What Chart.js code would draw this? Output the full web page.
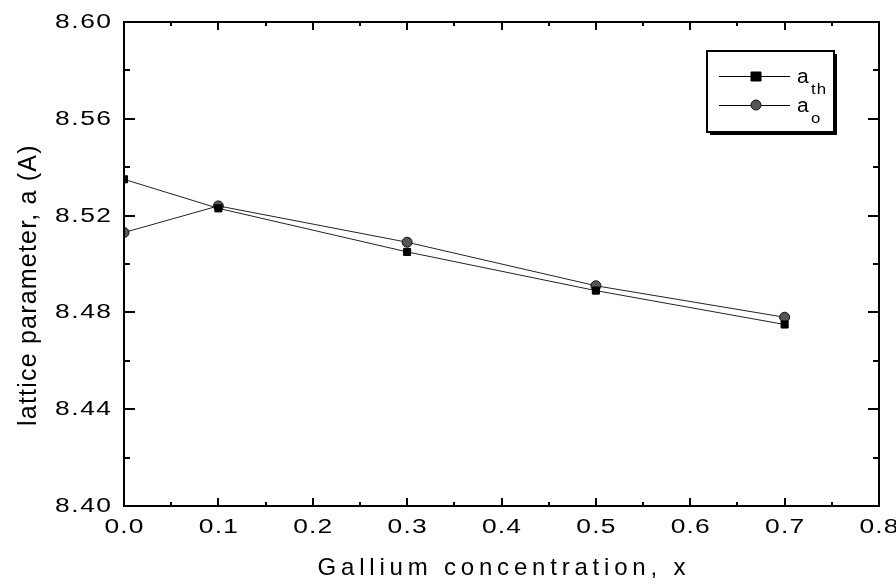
<!DOCTYPE html>
<html><head><meta charset="utf-8">
<script src="https://cdn.jsdelivr.net/npm/chart.js@4.4.0/dist/chart.umd.min.js"></script>
<style>html,body{margin:0;padding:0;background:#fff}#wrap{width:896px;height:585px}</style>
</head><body><div id="wrap"><canvas id="c" width="896" height="585"></canvas></div>
<script>
const concentrations = [0.0, 0.1, 0.3, 0.5, 0.7];
const aTheory = [8.535, 8.523, 8.505, 8.489, 8.475];
const aObserved = [8.513, 8.524, 8.509, 8.491, 8.478];
const seriesNames = ['a', 'a'];
const seriesSubs = ['th', 'o'];
const xTitle = 'Gallium concentration, x';
const yTitle = 'lattice parameter, a (A)';
const xMin = 0, xMax = 0.8, xStep = 0.1;
const yMin = 8.40, yMax = 8.60, yStep = 0.04;
const xDecimals = 1, yDecimals = 2;

const FONT = '"Liberation Sans", Arial, sans-serif';
const SX = 1.32; // horizontal stretch of the reference tick lettering

function drawText(ctx, text, x, y, align, size, sx, spacing){
  ctx.save();
  ctx.font = size + 'px ' + FONT;
  ctx.letterSpacing = '0px';
  const chars = Array.from(text);
  const widths = chars.map(c => ctx.measureText(c).width * sx);
  const total = widths.reduce((s,w)=>s+w,0) + spacing * (chars.length - 1);
  let start = x;
  if (align === 'center') start = x - total/2;
  else if (align === 'right') start = x - total;
  ctx.textAlign = 'left';
  ctx.textBaseline = 'alphabetic';
  ctx.translate(start, y);
  ctx.scale(sx, 1);
  ctx.letterSpacing = (spacing / sx) + 'px';
  ctx.fillText(text, 0, 0);
  ctx.restore();
  return total;
}

function toPts(xs, ys){ return xs.map((x,i)=>({x:x, y:ys[i]})); }

const framePlugin = {
  id: 'frame',
  afterDraw(chart){
    const ctx = chart.ctx, a = chart.chartArea;
    const xs = chart.scales.x, ys = chart.scales.y;
    ctx.save();
    ctx.strokeStyle = '#000';
    ctx.lineWidth = 2;
    ctx.strokeRect(a.left, a.top, a.right - a.left, a.bottom - a.top);
    ctx.beginPath();
    for (let k = 0; k <= Math.round((xMax - xMin) / (xStep/2)); k++){
      const v = xMin + k * xStep / 2;
      const px = Math.round(xs.getPixelForValue(v));
      const len = (k % 2 === 0) ? 8 : 4;
      if (px <= a.left + 1 || px >= a.right - 1) continue;
      ctx.moveTo(px, a.bottom); ctx.lineTo(px, a.bottom - len);
      ctx.moveTo(px, a.top); ctx.lineTo(px, a.top + len);
    }
    for (let k = 0; k <= Math.round((yMax - yMin) / (yStep/2)); k++){
      const v = yMin + k * yStep / 2;
      const py = Math.round(ys.getPixelForValue(v));
      const len = (k % 2 === 0) ? 11 : 6;
      if (py <= a.top + 1 || py >= a.bottom - 1) continue;
      ctx.moveTo(a.left, py); ctx.lineTo(a.left + len, py);
      ctx.moveTo(a.right, py); ctx.lineTo(a.right - len, py);
    }
    ctx.stroke();

    // tick labels from the library's scales
    ctx.fillStyle = '#000';
    xs.ticks.forEach(t => {
      drawText(ctx, Number(t.value).toFixed(xDecimals), xs.getPixelForValue(t.value), a.bottom + 27, 'center', 20, SX, 1.2);
    });
    ys.ticks.forEach(t => {
      drawText(ctx, Number(t.value).toFixed(yDecimals), a.left - 13, ys.getPixelForValue(t.value) + 6, 'right', 20, SX, 1.5);
    });

    // axis titles
    drawText(ctx, xTitle, (a.left + a.right) / 2, 575, 'center', 24, 1, 4.8);
    ctx.save();
    ctx.translate(36, 285);
    ctx.rotate(-Math.PI / 2);
    drawText(ctx, yTitle, 0, 0, 'center', 25, 1, 1.2);
    ctx.restore();

    // legend
    const bx = 707, by = 51, bw = 127, bh = 81;
    ctx.fillStyle = '#000';
    ctx.fillRect(bx + 3, by + 3, bw, bh);
    ctx.fillStyle = '#fff';
    ctx.fillRect(bx, by, bw, bh);
    ctx.lineWidth = 2;
    ctx.strokeStyle = '#000';
    ctx.strokeRect(bx, by, bw, bh);
    const rows = [76, 105];
    chart.data.datasets.forEach((ds, i) => {
      const ry = rows[i];
      ctx.lineWidth = 1;
      ctx.strokeStyle = '#000';
      ctx.beginPath(); ctx.moveTo(719, ry + 0.5); ctx.lineTo(790, ry + 0.5); ctx.stroke();
      ctx.fillStyle = ds.pointBackgroundColor; ctx.strokeStyle = ds.pointBorderColor;
      ctx.beginPath();
      if (ds.pointStyle === 'rect') { ctx.rect(756 - 5, ry - 4, 10, 9); } else { ctx.arc(756, ry, 5, 0, Math.PI*2); }
      ctx.fill(); ctx.lineWidth = 1; ctx.stroke();
      ctx.fillStyle = '#000';
      drawText(ctx, seriesNames[i], 797, ry + 7, 'left', 20, 1.05, 0);
      drawText(ctx, seriesSubs[i], 811, ry + 18, 'left', 14, 1.2, 1);
    });
    ctx.restore();
  }
};

new Chart(document.getElementById('c'), {
  type: 'scatter',
  data: {
    datasets: [
      { label: 'a_th', data: toPts(concentrations, aTheory), showLine: true,
        borderColor: '#222', borderWidth: 1, pointStyle: 'rect', pointRadius: 5,
        pointBackgroundColor: '#000', pointBorderColor: '#000', pointBorderWidth: 1 },
      { label: 'a_o', data: toPts(concentrations, aObserved), showLine: true,
        borderColor: '#222', borderWidth: 1, pointStyle: 'circle', pointRadius: 5,
        pointBackgroundColor: '#555', pointBorderColor: '#111', pointBorderWidth: 1 }
    ]
  },
  options: {
    responsive: false, animation: false,
    layout: { padding: { top: 22, right: 17, left: 0, bottom: 0 } },
    plugins: { legend: { display: false }, tooltip: { enabled: false } },
    scales: {
      x: { type: 'linear', min: xMin, max: xMax,
        grid: { display: false, drawTicks: false }, border: { display: false },
        ticks: { display: false, stepSize: xStep, autoSkip: false },
        afterFit: s => { s.height = 79; s.paddingLeft = 0; s.paddingRight = 0; } },
      y: { type: 'linear', min: yMin, max: yMax,
        grid: { display: false, drawTicks: false }, border: { display: false },
        ticks: { display: false, stepSize: yStep, autoSkip: false },
        afterFit: s => { s.width = 124; s.paddingTop = 0; s.paddingBottom = 0; } }
    }
  },
  plugins: [framePlugin]
});
</script></body></html>
